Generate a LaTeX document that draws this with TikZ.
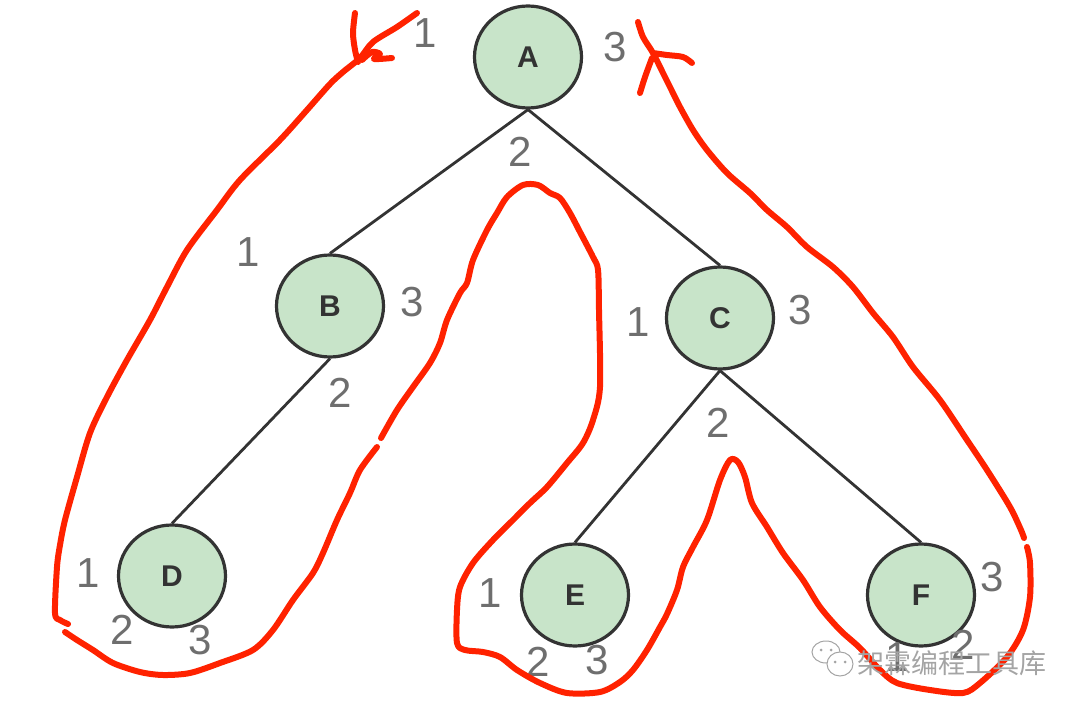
\documentclass[tikz,border=0pt]{standalone}
\usepackage{fontspec}
\setmainfont{Liberation Sans}
\newfontfamily\cjkfont{Noto Sans CJK SC}
\usetikzlibrary{shapes.geometric}
\definecolor{nodefill}{HTML}{C8E4C9}
\definecolor{nodeline}{HTML}{333333}
\definecolor{numgray}{HTML}{6E6E6E}
\definecolor{penred}{HTML}{FF2200}
\definecolor{wmgray}{HTML}{A4A4A4}
\begin{document}
\begin{tikzpicture}[x=1pt,y=-1pt,
  tnode/.style={ellipse, draw=nodeline, line width=3.2pt, fill=nodefill,
    minimum width=107pt, minimum height=102pt, inner sep=0pt,
    font=\fontsize{30}{30}\selectfont\bfseries, text=nodeline},
  num/.style={font=\fontsize{42}{42}\selectfont, text=numgray, inner sep=0pt},
  treeedge/.style={draw=nodeline, line width=2.8pt},
  redpen/.style={draw=penred, line width=6pt, line cap=round, line join=round},
  wm/.style={font=\cjkfont\fontsize{27}{27}\selectfont, inner sep=0pt}]
\useasboundingbox (0,0) rectangle (1080,709);

% tree nodes
\node[tnode] (A) at (528,57) {A};
\node[tnode] (B) at (330,306) {B};
\node[tnode] (C) at (720,318) {C};
\node[tnode] (D) at (172,576) {D};
\node[tnode] (E) at (575,595) {E};
\node[tnode] (F) at (921,595) {F};

% edges
\draw[treeedge] (A.south) -- (B.north);
\draw[treeedge] (A.south) -- (C.north);
\draw[treeedge] (B.south) -- (D.north);
\draw[treeedge] (C.south) -- (E.north);
\draw[treeedge] (C.south) -- (F.north);

% number labels
\node[num] (a1) at (425,33) {1};
\node[num] (a3) at (615,47) {3};
\node[num] (a2) at (520,152) {2};
\node[num] (b1) at (248,252) {1};
\node[num] (b3) at (412,302) {3};
\node[num] (b2) at (340,393) {2};
\node[num] (c1) at (638,322) {1};
\node[num] (c3) at (800,310) {3};
\node[num] (c2) at (718,423) {2};
\node[num] (d1) at (88,573) {1};
\node[num] (d2) at (122,630) {2};
\node[num] (d3) at (200,640) {3};
\node[num] (e1) at (490,593) {1};
\node[num] (e2) at (538,662) {2};
\node[num] (e3) at (597,660) {3};
\node[num] (f3) at (992,577) {3};
\node[num] (f1) at (897,657) {1};
\node[num] (f2) at (963,645) {2};

% red hand-drawn traversal path
\draw[redpen] plot[smooth, tension=0.5] coordinates {
 (417,13) (397,27) (373,42) (360,58) (343,72) (330,84) (307,110) (280,140)
 (240,180) (217,210) (187,250) (167,287) (150,320) (127,360) (107,397)
 (90,433) (77,477) (65,520) (60,545) (57,567) (55,613) (60,620) (68,624)};
\draw[redpen] plot[smooth, tension=0.5] coordinates {
 (65,632) (77,640) (93,650) (113,663) (140,672) (163,675) (190,673)
 (220,663) (253,650) (273,630) (293,600) (313,573) (323,553) (337,520)
 (350,493) (360,470) (377,447)};
\draw[redpen] plot[smooth, tension=0.5] coordinates {
 (381,438) (397,410) (413,387) (430,363) (440,343) (447,320) (460,293)
 (467,283) (473,260) (487,230) (497,213) (507,197) (523,185) (538,185)
 (550,193) (560,198) (570,213) (580,232) (593,257) (598,270) (599,310)
 (600,387) (593,420) (583,443) (567,463) (547,487) (530,503) (513,520)
 (493,540) (473,563) (460,587) (457,610) (457,643) (465,650) (483,652)
 (500,657) (517,670) (540,683) (567,693) (600,692) (620,682) (633,670)
 (647,650) (660,627) (667,614) (677,590) (683,567) (693,547) (707,520)
 (720,480) (730,460) (738,462) (745,477) (752,503) (767,527) (783,553)
 (803,580) (820,607) (840,630) (860,648) (880,670) (897,683) (930,690)
 (963,693) (980,683) (1007,657) (1023,630) (1030,597) (1030,563) (1027,547)};
\draw[redpen] plot[smooth, tension=0.5] coordinates {
 (1024,538) (1021,530) (1010,507) (987,470) (967,440) (940,400) (913,367)
 (893,337) (873,313) (853,287) (833,267) (807,247) (787,227) (767,210)
 (750,193) (727,173) (707,150) (693,130) (680,107) (670,87) (663,73)
 (653,53) (643,37) (638,22)};
% arrow strokes, top left
\draw[redpen] plot[smooth, tension=0.5] coordinates {(355,13) (353,33) (355,50) (358,62)};
\draw[redpen] plot[smooth, tension=0.5] coordinates {(362,60) (372,52) (380,54) (374,59) (392,58)};
% arrow strokes, top right
\draw[redpen] plot[smooth, tension=0.5] coordinates {(653,53) (667,55) (683,57) (692,63)};
\draw[redpen] plot[smooth, tension=0.5] coordinates {(652,58) (645,77) (640,93)};

% watermark
\begin{scope}[draw=wmgray, fill=white, line width=1pt]
  \filldraw (826,652) ellipse [x radius=14, y radius=11];
  \filldraw (840,664) ellipse [x radius=13, y radius=12];
  \fill[wmgray] (821,650) circle (1.5) (831,650) circle (1.5)
                (835,662) circle (1.5) (845,662) circle (1.5);
\end{scope}
\node[wm, text=wmgray] (wm) at (952,663) {架霖编程工具库};
\end{tikzpicture}
\end{document}
